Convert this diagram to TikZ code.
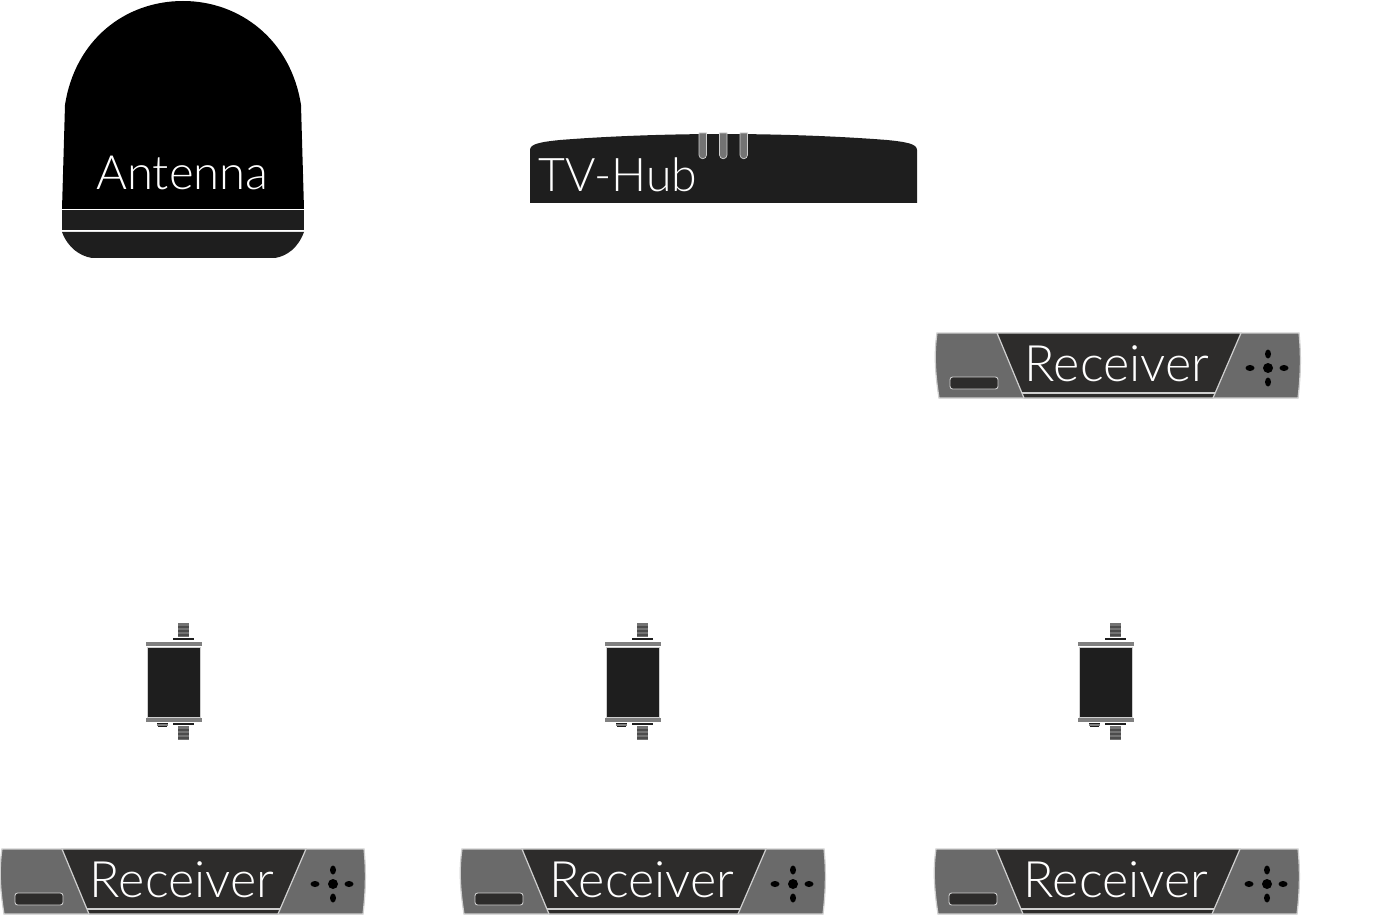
\documentclass[tikz,border=0pt]{standalone}
\usepackage{fontspec}
\setmainfont{Lato Light}
\definecolor{darkbody}{HTML}{1E1E1E}
\definecolor{darkpanel}{HTML}{2D2C2B}
\definecolor{greypanel}{HTML}{6A6A6A}
\definecolor{edgegrey}{HTML}{CFCFCF}
\tikzset{
  label text/.style={text=white,inner sep=0pt,anchor=base west,font=\fontsize{#1}{#1}\selectfont},
  label text/.default=27,
  panel/.style={fill=greypanel,draw=edgegrey,line width=0.7pt},
  key dot/.style={fill=black,draw=none},
  stud/.style={fill=gray!90!black,draw=none},
  stripe/.style={fill=gray!60!black,draw=none},
  flange/.style={fill=gray,draw=none},
  receiver/.pic={
    \draw [panel] (1,0) -- (363,0) .. controls (365,20) and (365,40) .. (362,65) -- (3,65) .. controls (-1,40) and (-2,20) .. (1,0) -- cycle;
    \draw [edgegrey,fill=darkpanel,line width=0.7pt] (61,0) -- (305,0) -- (277,65) -- (88,65) -- cycle;
    \draw [edgegrey,line width=0.7pt] (86,60) -- (279,60);
    \draw [edgegrey,fill=darkpanel,line width=0.5pt,rounded corners=1.5] (14,44) rectangle (62,56);
    \fill [key dot] (332,35) circle [x radius=5,y radius=5];
    \fill [key dot] (314,35) circle [x radius=4.5,y radius=3];
    \fill [key dot] (348,35) circle [x radius=4.5,y radius=3];
    \fill [key dot] (332,21) circle [x radius=3,y radius=4.5];
    \fill [key dot] (332,49) circle [x radius=3,y radius=4.5];
    \node [label text=28.6] (-label) at (88.5,48) {Receiver};
  },
  filter/.pic={
    \fill [stud] (177.5,623) rectangle (188.5,637);
    \foreach \stripey in {626,630,634} {
      \fill [stripe] (177.5,\stripey) rectangle (188.5,\stripey+1.5);
    }
    \fill [darkbody] (172.5,638) rectangle (193.5,640);
    \fill [flange] (146,642) rectangle (201.5,646);
    \draw [edgegrey,fill=darkbody,line width=0.5pt] (147.5,647) rectangle (200.5,717);
    \fill [flange] (146,718) rectangle (201.5,722);
    \fill [darkbody] (172.5,723) rectangle (193.5,725);
    \fill [stud] (177.5,726) rectangle (188.5,740);
    \foreach \stripey in {729,733,737} {
      \fill [stripe] (177.5,\stripey) rectangle (188.5,\stripey+1.5);
    }
    \fill [darkbody] (157,723) rectangle (168,724);
    \fill [gray] (157,724) rectangle (168,725.5);
    \fill [darkbody] (158,725.5) rectangle (167,727);
  }
}
\begin{document}
\begin{tikzpicture}[x=0.02cm,y=-0.02cm]
\useasboundingbox (0,0) rectangle (1385,915);
% antenna
\fill [black] (65,105) .. controls (75,40) and (125,1) .. (183,1) .. controls (240,1) and (291,40) .. (301,105) -- (304,209) -- (62,209) -- cycle;
\fill [darkbody] (62,210) rectangle (304,230);
\fill [darkbody] (62,232) .. controls (68,248) and (80,256) .. (92,258) -- (275,258) .. controls (287,256) and (298,248) .. (304,232) -- cycle;
\node [label text=26.9] (antenna) at (96,190) {Antenna};
% tv-hub
\fill [darkbody] (530,203) -- (530,150) .. controls (530,144) and (540,142) .. (560,140) .. controls (610,136) and (670,134) .. (723,134) .. controls (776,134) and (836,136) .. (887,140) .. controls (907,142) and (917,144) .. (917,150) -- (917,203) -- cycle;
\foreach \ledx in {699,719.5,740} {
  \draw [edgegrey,fill=gray!90!black,line width=0.4pt] (\ledx,133) -- (\ledx,155) arc (180:0:3.75) -- (\ledx+7.5,133) -- cycle;
}
\node [label text=26.4] (tvhub) at (538,192) {TV-Hub};
% receivers
\pic (rxa) at (936,333) {receiver};
\pic (rxb) at (1,849) {receiver};
\pic (rxc) at (461,849) {receiver};
\pic (rxd) at (935,849) {receiver};
% filters
\pic at (0,0) {filter};
\pic at (459,0) {filter};
\pic at (932,0) {filter};
\end{tikzpicture}
\end{document}
